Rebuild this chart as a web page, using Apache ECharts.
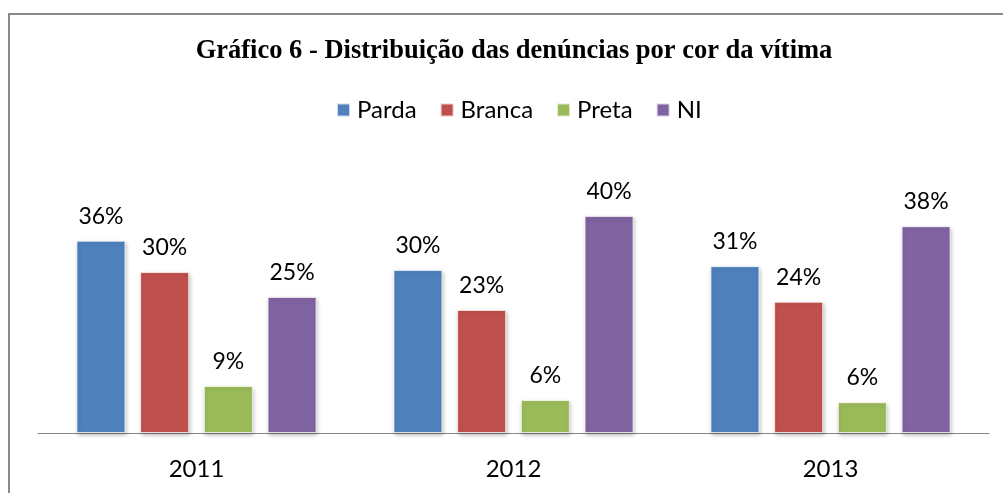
<!DOCTYPE html>
<html>
<head>
<meta charset="utf-8">
<script src="https://cdn.jsdelivr.net/npm/echarts@6/dist/echarts.min.js"></script>
<style>
  html, body { margin: 0; padding: 0; background: #fff; overflow: hidden; }
  #chart { width: 1003px; height: 493px; }
</style>
</head>
<body>
<div id="chart"></div>
<script>
const years = ["2011", "2012", "2013"];
const parda = [35.6, 30.2, 30.9];
const branca = [29.8, 22.8, 24.3];
const preta = [8.7, 6.1, 5.7];
const ni = [25.2, 40.2, 38.3];

const colors = ["#4F81BD", "#C0504D", "#9BBB59", "#8064A2"];

const chart = echarts.init(document.getElementById("chart"));

const makeSeries = (name, values, color) => ({
  name,
  type: "bar",
  data: values,
  barWidth: 49,
  barGap: "30%",
  itemStyle: {
    color,
    borderColor: "rgba(255,255,255,0.7)",
    borderWidth: 1,
    shadowBlur: 4,
    shadowColor: "rgba(0,0,0,0.25)",
    shadowOffsetX: 1,
    shadowOffsetY: 2,
  },
  label: {
    show: true,
    position: "top",
    distance: 13,
    fontFamily: "Lato",
    fontSize: 23,
    color: "#000",
    formatter: (p) => Math.round(p.value) + "%",
  },
});

chart.setOption({
  animation: false,
  graphic: [
    {
      type: "rect",
      shape: { x: 9, y: 14, width: 1100, height: 600 },
      style: { fill: "none", stroke: "#8a8a8a", lineWidth: 2 },
      z: -1,
    },
  ],
  title: {
    text: "Gráfico 6 - Distribuição das denúncias por cor da vítima",
    left: 509,
    top: 33,
    textAlign: "center",
    textStyle: {
      fontFamily: "Liberation Serif",
      fontWeight: "bold",
      fontSize: 26.5,
      color: "#000",
    },
  },
  legend: {
    left: 331,
    top: 93,
    itemWidth: 13,
    itemHeight: 13,
    itemGap: 23,
    icon: "rect",
    textStyle: { fontFamily: "Lato", fontSize: 24, color: "#000", padding: [0, 0, 0, 2] },
    data: ["Parda", "Branca", "Preta", "NI"],
  },
  grid: { left: 38, right: 14, top: 190, bottom: 60 },
  xAxis: {
    type: "category",
    data: years,
    axisTick: { show: false },
    axisLine: { lineStyle: { color: "#868686", width: 1 } },
    axisLabel: { fontFamily: "Lato", fontSize: 24, color: "#000", margin: 24 },
  },
  yAxis: {
    type: "value",
    min: 0,
    max: 45,
    show: false,
    splitLine: { show: false },
  },
  series: [
    makeSeries("Parda", parda, colors[0]),
    makeSeries("Branca", branca, colors[1]),
    makeSeries("Preta", preta, colors[2]),
    makeSeries("NI", ni, colors[3]),
  ],
});
</script>
</body>
</html>
